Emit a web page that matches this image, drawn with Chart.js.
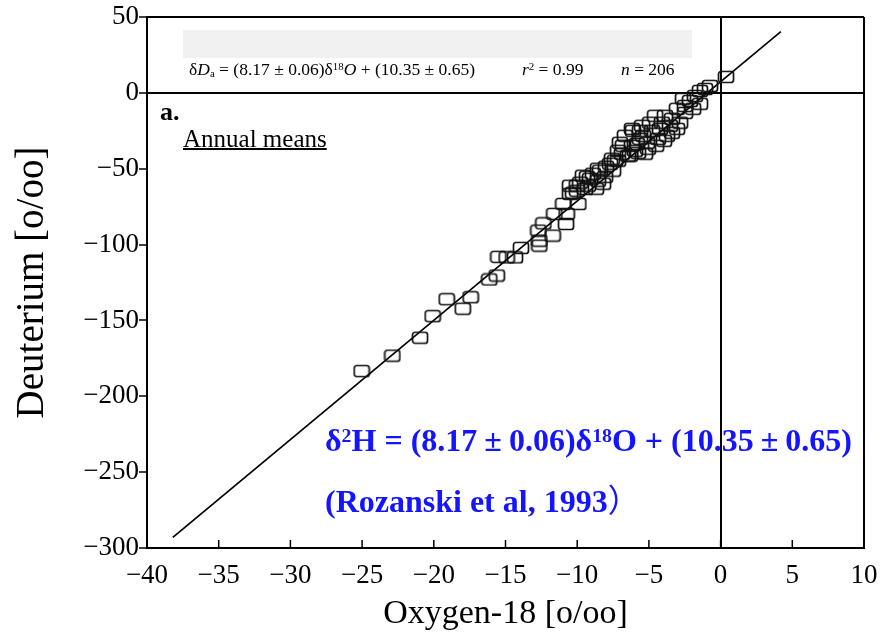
<!DOCTYPE html>
<html><head><meta charset="utf-8">
<script src="https://cdn.jsdelivr.net/npm/chart.js@4.4.1/dist/chart.umd.min.js"></script>
<style>
html,body{margin:0;padding:0;background:#fff;}
#wrap{position:relative;width:886px;height:640px;overflow:hidden;}
#c{position:absolute;left:0;top:0;}
.ann{position:absolute;white-space:nowrap;font-family:"Liberation Serif","Times New Roman",serif;color:#000;line-height:1;}
.ann sup{font-size:0.62em;vertical-align:0.45em;line-height:0;}
.ann sub{font-size:0.62em;vertical-align:-0.2em;line-height:0;}
.blue{color:#1414ff;font-weight:bold;font-size:32px;}
.pm{padding:0 7px;}
</style></head><body>
<div id="wrap">
<canvas id="c" width="886" height="640"></canvas>
<div class="ann" style="left:183px;top:30px;width:509px;height:28px;background:#f1f1f1;"></div>
<div class="ann" style="left:189px;top:61px;font-size:17.5px;">δ<i>D</i><sub>a</sub> = (8.17 ± 0.06)δ<sup>18</sup><i>O</i> + (10.35 ± 0.65)</div>
<div class="ann" style="left:522px;top:61px;font-size:17.5px;"><i>r</i><sup>2</sup> = 0.99</div>
<div class="ann" style="left:621px;top:61px;font-size:17.5px;"><i>n</i> = 206</div>
<div class="ann" style="left:160px;top:99px;font-size:26px;font-weight:bold;">a.</div>
<div class="ann" style="left:183px;top:126px;font-size:25px;text-decoration:underline;text-decoration-thickness:1.5px;">Annual means</div>
<div class="ann blue" style="left:325px;top:424px;">δ<sup>2</sup>H = (8.17<span class="pm">±</span>0.06)δ<sup>18</sup>O + (10.35<span class="pm">±</span>0.65)</div>
<div class="ann blue" style="left:325px;top:482px;">(Rozanski et al, 1993<span style="font-family:'Noto Sans CJK SC';font-weight:normal;">）</span></div>
</div>
<script>
// Annual mean stations: delta-18O and delta-D (per mil)
const oxygen18 = [
 -25.03,-22.89,-20.96,-20.08,-19.1,-17.98,-17.43,-16.13,-15.61,-15.5,-14.92,-14.34,-13.92,
 -12.64,-12.64,-12.71,-12.36,-11.71,-11.6,-10.78,-10.73,-10.97,-10.5,-10.03,-9.92,-9.46,
 -10.29,-10.5,-9.8,-9.32,-8.9,-9.11,-8.55,-8.2,-8.41,-7.99,-7.71,-7.5,-7.36,-7.15,-6.88,
 -6.46,-6.81,-6.18,-5.83,-6.67,-6.11,-5.48,-5.41,-5.27,-5.76,-6.32,-6.18,-4.57,-4.92,-4.23,
 -5.13,-3.74,-3.39,-3.04,-4.37,-3.39,-2.83,-3.04,-2.48,-2.13,-1.44,-1.44,-1.09,0.38,-3.88,
 -4.09,-4.78,-5.62,-7.15,-7.57,-8.55,-9.6,-10.01,-9.25,-1.79,-0.74,-2.48,-1.92,-3.53,-5.06,
 -5.97,-7.02,-8.06,-8.69,-2.62,-4.5,-3.95,-5.62
];
const deuterium = [
 -183.4,-173.2,-161.4,-147.2,-136,-142.3,-134.7,-123,-120.4,-108.1,-108.4,-108.4,-102.2,
 -100.7,-97.4,-90.8,-86,-94.1,-79.8,-86.4,-79.8,-73.2,-66.6,-61.2,-73.2,-63.4,
 -65.8,-61.2,-59.2,-55.3,-53.3,-56.6,-57.9,-59.9,-51.3,-48.7,-46.7,-51.3,-44.7,-44.7,-40.1,
 -41.4,-34.9,-34.9,-33.6,-28.3,-25,-21.7,-28.3,-40.1,-39.5,-41.4,-23.7,-15.1,-19.7,-23.7,
 -32.9,-28.3,-26.3,-23.7,-30.3,-17.1,-19.7,-10.5,-8.6,-5.3,-7.2,1.3,2.6,10.5,-15.1,
 -19.7,-25,-30.3,-38.2,-43.4,-50,-54.6,-64.5,-61.2,-2,4.6,-13.2,-10.5,-21.7,-36.8,
 -38.2,-32.9,-55.3,-63.2,-3.9,-34.9,-31.6,-25
];
// Regression line end points as drawn in the picture
const lineO18 = [-38.2, 4.2];
const lineD = [-293, 40.3];
// Axis ticks
const xTicks = [-40,-35,-30,-25,-20,-15,-10,-5,0,5,10];
const yTicks = [-300,-250,-200,-150,-100,-50,0,50];

function makeBox(){
  const c=document.createElement('canvas'); c.width=18; c.height=14;
  const g=c.getContext('2d'); g.strokeStyle='#111'; g.lineWidth=1.7;
  g.beginPath();
  if (g.roundRect) g.roundRect(1.5,1.5,15,11,2.5); else g.rect(1.5,1.5,15,11);
  g.stroke(); return c;
}
const box = makeBox();
const pts = oxygen18.map((x,i)=>({x:x,y:deuterium[i]}));
const linePts = lineO18.map((x,i)=>({x:x,y:lineD[i]}));
const minusFmt = v => v<0 ? '\u2212'+Math.abs(v) : String(v);

const innerTicks = {id:'innerTicks', afterDatasetsDraw(chart){
  const xs=chart.scales.x, ctx=chart.ctx, b=chart.chartArea.bottom;
  ctx.save(); ctx.strokeStyle='#000'; ctx.lineWidth=1.5;
  xs.ticks.forEach(t=>{const px=xs.getPixelForValue(t.value); ctx.beginPath(); ctx.moveTo(px,b); ctx.lineTo(px,b-8); ctx.stroke();});
  ctx.restore();
}};

const serif = "'Liberation Serif','Times New Roman',serif";
new Chart(document.getElementById('c'), {
  type:'scatter',
  data:{datasets:[
    {data:pts, pointStyle:box, pointRadius:8, showLine:false},
    {data:linePts, showLine:true, pointRadius:0, borderColor:'#000', borderWidth:1.7, fill:false}
  ]},
  options:{
    responsive:false, animation:false,
    layout:{padding:{top:17,right:22,left:0,bottom:0}},
    plugins:{legend:{display:false}, tooltip:{enabled:false}},
    scales:{
      x:{type:'linear', min:-40, max:10,
        afterBuildTicks:s=>{s.ticks=xTicks.map(v=>({value:v}));},
        afterFit:s=>{s.height=92; s.paddingLeft=0; s.paddingRight=0;},
        ticks:{callback:minusFmt, color:'#000', font:{family:serif,size:27}, padding:12, maxRotation:0, autoSkip:false},
        grid:{drawTicks:false, lineWidth:2, color:c=>(c.tick&&(c.tick.value===0||c.tick.value===10))?'#000':'rgba(0,0,0,0)'},
        border:{display:true,color:'#000',width:2},
        title:{display:true,text:'Oxygen-18 [o/oo]',color:'#000',font:{family:serif,size:34},padding:{bottom:6,top:0}}
      },
      y:{type:'linear', min:-300, max:50,
        afterBuildTicks:s=>{s.ticks=yTicks.map(v=>({value:v}));},
        afterFit:s=>{s.width=147; s.paddingTop=0; s.paddingBottom=0;},
        ticks:{callback:minusFmt, color:'#000', font:{family:serif,size:27}, padding:0, autoSkip:false},
        grid:{drawTicks:true, tickLength:8, tickColor:'#000', tickWidth:1.5, lineWidth:2, color:c=>(c.tick&&(c.tick.value===0||c.tick.value===50))?'#000':'rgba(0,0,0,0)'},
        border:{display:true,color:'#000',width:2},
        title:{display:true,text:'Deuterium [o/oo]',color:'#000',font:{family:serif,size:39},padding:{top:9,bottom:0}}
      }
    }
  },
  plugins:[innerTicks]
});
</script>
</body></html>
